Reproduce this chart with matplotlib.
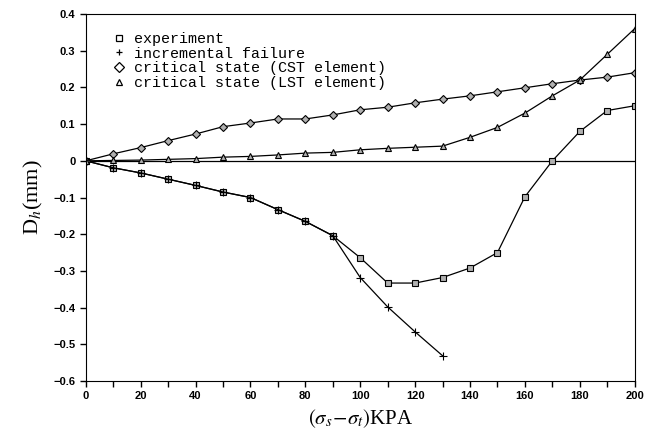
import matplotlib.pyplot as plt
from matplotlib.lines import Line2D
import numpy as np

plt.rcParams['mathtext.fontset'] = 'stix'

x_exp = [0, 10, 20, 30, 40, 50, 60, 70, 80, 90, 100, 110, 120, 130, 140, 150, 160, 170, 180, 190, 200]
d_exp = [0, -0.019, -0.033, -0.05, -0.067, -0.085, -0.1, -0.133, -0.165, -0.204, -0.264, -0.333,
         -0.333, -0.318, -0.292, -0.25, -0.098, 0.0, 0.08, 0.137, 0.15]

x_inc = [0, 10, 20, 30, 40, 50, 60, 70, 80, 90, 100, 110, 120, 130]
d_inc = [0, -0.019, -0.033, -0.05, -0.067, -0.085, -0.1, -0.133, -0.165, -0.204, -0.318, -0.398,
         -0.466, -0.531]

x_cs = [0, 10, 20, 30, 40, 50, 60, 70, 80, 90, 100, 110, 120, 130, 140, 150, 160, 170, 180, 190, 200]
d_cst = [0, 0.019, 0.036, 0.055, 0.073, 0.093, 0.103, 0.114, 0.114, 0.125, 0.139, 0.146, 0.158,
         0.168, 0.177, 0.188, 0.199, 0.21, 0.22, 0.228, 0.24]
d_lst = [0, 0.001, 0.002, 0.004, 0.006, 0.01, 0.012, 0.016, 0.021, 0.023, 0.03, 0.034, 0.037,
         0.04, 0.064, 0.091, 0.13, 0.177, 0.22, 0.29, 0.36]

labels = ['experiment', 'incremental failure', 'critical state (CST element)',
          'critical state (LST element)']
markers = ['s', '+', 'D', '^']

fig = plt.figure(figsize=(6.45, 4.37), dpi=100)
ax = fig.add_axes([0.133, 0.128, 0.851, 0.84])

ax.axhline(0, color='black', lw=0.9, zorder=1)

style = dict(color='black', lw=0.9, mec='black', mfc='#b0b0b0', mew=0.8)
ax.plot(x_exp, d_exp, marker='s', ms=5, **style)
ax.plot(x_inc, d_inc, marker='+', ms=6, **style)
ax.plot(x_cs, d_cst, marker='D', ms=4, **style)
ax.plot(x_cs, d_lst, marker='^', ms=5, **style)

ax.set_xlim(0, 200)
ax.set_ylim(-0.6, 0.4)
ax.set_xticks(np.arange(0, 201, 20))
ax.set_xticks(np.arange(0, 201, 10), minor=True)
ax.set_yticks(np.arange(-0.6, 0.41, 0.1))
ax.set_yticklabels(['\u22120.6', '\u22120.5', '\u22120.4', '\u22120.3', '\u22120.2', '\u22120.1',
                    '0', '0.1', '0.2', '0.3', '0.4'])
ax.tick_params(axis='both', which='both', direction='out', width=1)
ax.tick_params(axis='both', which='major', length=4, labelsize=8)
ax.tick_params(axis='x', which='minor', length=4)
for lab in ax.get_xticklabels() + ax.get_yticklabels():
    lab.set_fontweight('bold')
    lab.set_family('Liberation Sans')

ax.set_xlabel(r'$(\sigma_s\!-\!\sigma_t)$KPA', fontsize=15, family='Liberation Serif', labelpad=4)
ax.set_ylabel(r'D$_h$(mm)', fontsize=16, family='Liberation Serif', labelpad=6)

handles = [Line2D([], [], ls='none', marker=m, color='black', mfc='white', mew=0.9, ms=5)
           for m in markers]
ax.legend(handles, labels, loc='upper left', bbox_to_anchor=(0.03, 0.98), frameon=False,
          prop={'family': 'Liberation Mono', 'size': 10.8}, handlelength=0.8,
          handletextpad=0.6, labelspacing=0.05, borderaxespad=0.3)

fig.savefig('out.png', dpi=100)
